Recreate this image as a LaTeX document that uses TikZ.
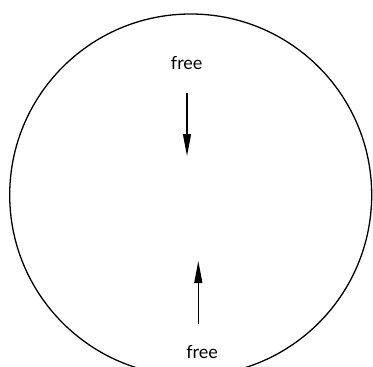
\documentclass[tikz,border=0pt]{standalone}
\usepackage{fontspec}
\setmainfont{Lato}
\usetikzlibrary{arrows.meta}
\begin{document}
\begin{tikzpicture}[x=1pt,y=-1pt,
  lbl/.style={inner sep=0pt,font=\fontsize{18}{20}\selectfont},
  arr/.style={line width=1.2pt,-{Stealth[length=22pt,width=8pt,inset=0pt]}}]
\useasboundingbox (0,0) rectangle (373,367);
\node[draw,circle,line width=1.3pt,minimum size=362pt,inner sep=0pt] (c) at (190.7,195) {};
\node[lbl] (t) at (186.7,63) {free};
\node[lbl] (b) at (202,352) {free};
\coordinate (t1) at (187,93);
\coordinate (t2) at (187,156);
\coordinate (b1) at (198.3,324);
\coordinate (b2) at (198.3,261);
\draw[arr] (t1) -- (t2);
\draw[arr] (b1) -- (b2);
\end{tikzpicture}
\end{document}
